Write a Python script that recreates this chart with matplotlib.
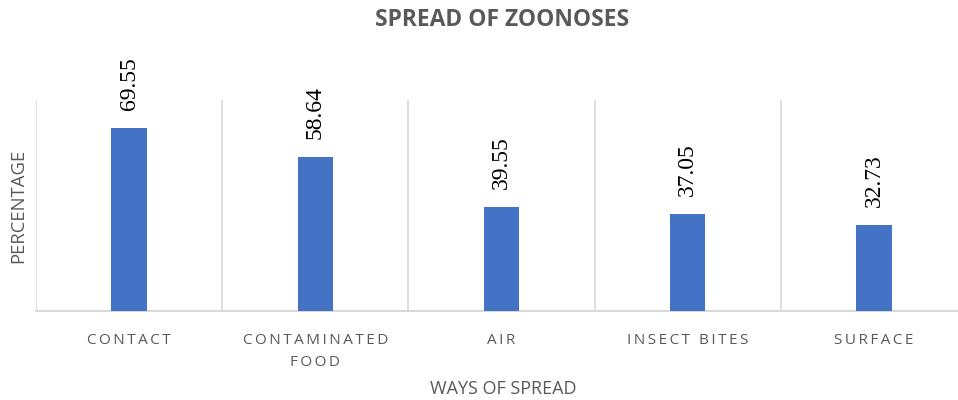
import matplotlib
matplotlib.use("Agg")
import matplotlib.pyplot as plt
from matplotlib.ticker import NullLocator

categories = ["CONTACT", "CONTAMINATED\nFOOD", "AIR", "INSECT BITES", "SURFACE"]
values = [69.55, 58.64, 39.55, 37.05, 32.73]
value_labels = ["69.55", "58.64", "39.55", "37.05", "32.73"]

W, H = 958, 400
fig = plt.figure(figsize=(W / 100, H / 100), dpi=100)
left, right, top, bottom = 36, 967, 100, 311
ax = fig.add_axes([left / W, 1 - bottom / H, (right - left) / W, (bottom - top) / H])

x = list(range(len(categories)))
ax.bar(x, values, width=0.19, color="#4472C4", zorder=3)
ax.set_xlim(-0.5, len(categories) - 0.5)
ax.set_ylim(0, 80.2)

for xi, v, lab in zip(x, values, value_labels):
    ax.annotate(lab, (xi, v), xytext=(0, 18), textcoords="offset pixels",
                rotation=90, ha="center", va="bottom", fontsize=17,
                fontfamily="Liberation Serif", color="#000000")

# separators between categories
for b in [i - 0.5 for i in range(len(categories) + 1)]:
    ax.axvline(b, color="#D9D9D9", lw=1.2, zorder=1)

for s in ["top", "right", "left"]:
    ax.spines[s].set_visible(False)
ax.spines["bottom"].set_color("#D9D9D9")
ax.spines["bottom"].set_linewidth(1.5)

ax.yaxis.set_major_locator(NullLocator())

def spaced(s):
    return "\n".join("\u2009".join(list(line)) for line in s.split("\n"))

ax.set_xticks(x)
ax.set_xticklabels([spaced(c) for c in categories], fontsize=11, color="#595959",
                   fontfamily=["Open Sans", "DejaVu Sans"], linespacing=1.6)
ax.tick_params(axis="x", length=0, pad=16)

fig.text(502 / W, 1 - 20 / H, "SPREAD OF ZOONOSES", ha="center", va="center",
         fontsize=16.5, fontweight="bold", color="#595959", fontfamily="Open Sans")
fig.text(503 / W, 1 - 389 / H, "WAYS OF SPREAD", ha="center", va="center",
         fontsize=13, color="#595959", fontfamily="Open Sans")
fig.text(18 / W, 1 - 206 / H, "PERCENTAGE", ha="center", va="center", rotation=90,
         fontsize=13.3, color="#595959", fontfamily="Open Sans")

fig.savefig("out.png", dpi=100)
